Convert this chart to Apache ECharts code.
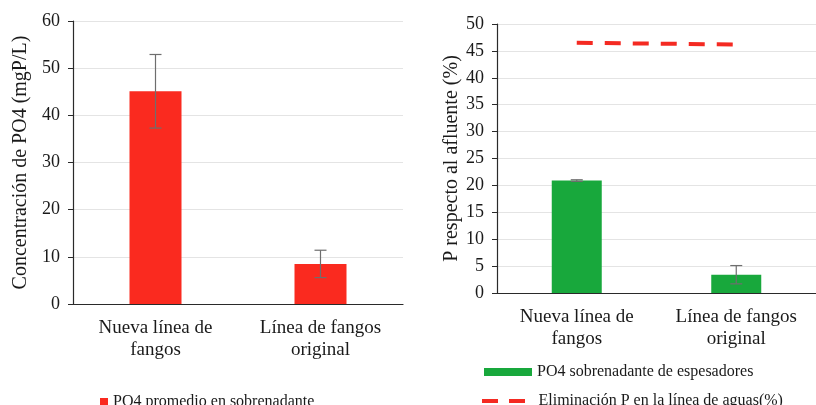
<!DOCTYPE html>
<html>
<head>
<meta charset="utf-8">
<script src="https://cdn.jsdelivr.net/npm/echarts@6/dist/echarts.min.js"></script>
<style>
  html, body { margin: 0; padding: 0; background: #fff; }
  #main { width: 816px; height: 405px; }
</style>
</head>
<body>
<div id="main"></div>
<script>
// categorias (comunes a las dos graficas)
const categories = ['Nueva línea de\nfangos', 'Línea de fangos\noriginal'];

// grafica izquierda: PO4 promedio (mgP/L) y su desviacion
const po4Mean = [45.1, 8.5];
const po4Err = [7.8, 2.9];

// grafica derecha: % respecto al afluente
const sobrenadante = [20.9, 3.4];
const sobrenadanteErr = [0.15, 1.7];
const eliminacionP = [46.5, 46.2];

const leftTicks = { min: 0, max: 60, interval: 10 };
const rightTicks = { min: 0, max: 50, interval: 5 };

const FONT = '"Liberation Serif", "DejaVu Serif", serif';
const TXT = '#1a1a1a';

// datos de barras de error [x, bajo, alto]
function errData(mean, err) {
  return mean.map((v, i) => [i, v - err[i], v + err[i]]);
}

function renderErr(params, api) {
  const x = api.value(0);
  const lo = api.coord([x, api.value(1)]);
  const hi = api.coord([x, api.value(2)]);
  const half = 6;
  const style = { stroke: '#6e6e6e', lineWidth: 1.2 };
  return {
    type: 'group',
    children: [
      { type: 'line', shape: { x1: lo[0], y1: lo[1], x2: hi[0], y2: hi[1] }, style },
      { type: 'line', shape: { x1: hi[0] - half, y1: hi[1], x2: hi[0] + half, y2: hi[1] }, style },
      { type: 'line', shape: { x1: lo[0] - half, y1: lo[1], x2: lo[0] + half, y2: lo[1] }, style }
    ]
  };
}

function xAxis(gridIndex) {
  return {
    type: 'category',
    gridIndex,
    data: categories,
    axisLine: { lineStyle: { color: '#2a2a2a', width: 1.2 } },
    axisTick: { show: false },
    axisLabel: { color: TXT, fontFamily: FONT, fontSize: 19, lineHeight: 22, margin: 13 }
  };
}

function yAxis(gridIndex, ticks, name, nameGap) {
  return {
    type: 'value',
    gridIndex,
    min: ticks.min,
    max: ticks.max,
    interval: ticks.interval,
    name,
    nameLocation: 'middle',
    nameGap,
    nameTextStyle: { color: TXT, fontFamily: FONT, fontSize: 20 },
    axisLine: { show: true, lineStyle: { color: '#2a2a2a', width: 1.2 } },
    axisTick: { show: true, length: 5, lineStyle: { color: '#2a2a2a' } },
    axisLabel: { color: TXT, fontFamily: FONT, fontSize: 18, margin: 13 },
    splitLine: { lineStyle: { color: '#e4e4e4' } }
  };
}

const legendText = { color: TXT, fontFamily: FONT, fontSize: 16 };

const chart = echarts.init(document.getElementById('main'));

chart.setOption({
  backgroundColor: '#fff',
  animation: false,
  grid: [
    { left: 73, top: 21, width: 330, height: 283 },
    { left: 497, top: 24, width: 319, height: 269 }
  ],
  xAxis: [xAxis(0), xAxis(1)],
  yAxis: [
    yAxis(0, leftTicks, 'Concentración de PO4 (mgP/L)', 42),
    yAxis(1, rightTicks, 'P respecto al afluente (%)', 33)
  ],
  legend: [
    {
      data: ['PO4 promedio en sobrenadante'],
      left: 95, top: 389,
      itemWidth: 8, itemHeight: 8, itemGap: 4,
      icon: 'rect',
      textStyle: legendText
    },
    {
      data: ['PO4 sobrenadante de espesadores'],
      left: 479, top: 359,
      itemWidth: 48, itemHeight: 8,
      icon: 'rect',
      textStyle: legendText
    },
    {
      data: [{
        name: 'Eliminación P en la línea de aguas(%)',
        icon: 'path://M0,0h16v4h-16z M27,0h16v4h-16z'
      }],
      left: 477, top: 388,
      itemWidth: 44, itemHeight: 4,
      textStyle: Object.assign({ padding: [0, 0, 0, 8] }, legendText)
    }
  ],
  series: [
    {
      name: 'PO4 promedio en sobrenadante',
      type: 'bar',
      xAxisIndex: 0, yAxisIndex: 0,
      barWidth: 52,
      itemStyle: { color: '#fa2a1f' },
      data: po4Mean
    },
    {
      type: 'custom',
      xAxisIndex: 0, yAxisIndex: 0,
      renderItem: renderErr,
      encode: { x: 0, y: [1, 2] },
      z: 5,
      data: errData(po4Mean, po4Err)
    },
    {
      name: 'PO4 sobrenadante de espesadores',
      type: 'bar',
      xAxisIndex: 1, yAxisIndex: 1,
      barWidth: 50,
      itemStyle: { color: '#18a83c' },
      data: sobrenadante
    },
    {
      type: 'custom',
      xAxisIndex: 1, yAxisIndex: 1,
      renderItem: renderErr,
      encode: { x: 0, y: [1, 2] },
      z: 5,
      data: errData(sobrenadante, sobrenadanteErr)
    },
    {
      name: 'Eliminación P en la línea de aguas(%)',
      type: 'line',
      xAxisIndex: 1, yAxisIndex: 1,
      symbol: 'none',
      itemStyle: { color: '#f42a22' },
      lineStyle: { color: '#f42a22', width: 4, type: [16, 12] },
      data: eliminacionP
    }
  ]
});
</script>
</body>
</html>
